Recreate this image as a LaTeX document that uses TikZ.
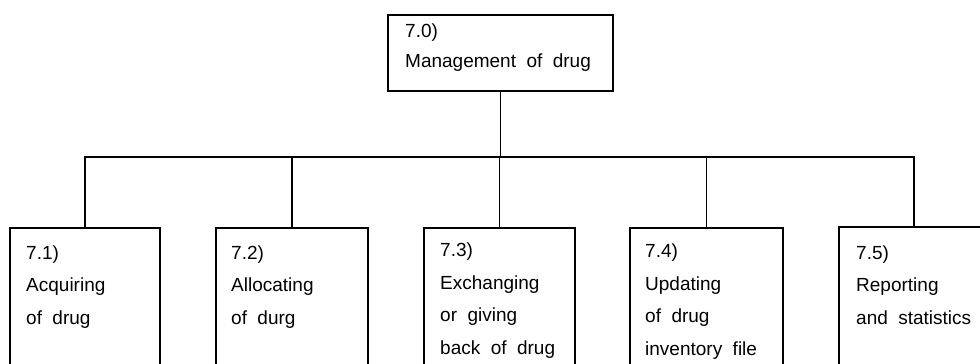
\documentclass[tikz,border=0pt]{standalone}
\usepackage{fontspec}
\setmainfont{Liberation Sans}
\begin{document}
\begin{tikzpicture}[x=1pt,y=-1pt,
  boxnode/.style={draw,line width=1.7pt,rectangle,inner sep=0pt,anchor=north west},
  label/.style={anchor=base west,inner sep=0pt,align=left,
    font={\fontsize{19}{32.5}\selectfont\spaceskip=0.55em plus 0.1em}},
  toplabel/.style={label,font={\fontsize{19}{30}\selectfont\spaceskip=0.55em plus 0.1em}},
  link/.style={line width=1.7pt}]
\useasboundingbox (0,0) rectangle (980,364);
\clip (0,0) rectangle (980,364);
% top box
\node[boxnode,minimum width=225pt,minimum height=76pt] (top) at (387,14) {};
\node[toplabel] (ttop) at (405,67) {7.0)\\Management of drug};
% bottom boxes
\node[boxnode,minimum width=150pt,minimum height=160pt] (b1) at (9,227) {};
\node[boxnode,minimum width=152pt,minimum height=160pt] (b2) at (215,227) {};
\node[boxnode,minimum width=151pt,minimum height=160pt] (b3) at (423,227) {};
\node[boxnode,minimum width=153pt,minimum height=160pt] (b4) at (629,227) {};
\node[boxnode,minimum width=150pt,minimum height=160pt] (b5) at (838,226) {};
\node[label] (t1) at (26,324) {7.1)\\Acquiring\\of drug};
\node[label] (t2) at (231,324) {7.2)\\Allocating\\of durg};
\node[label] (t3) at (440,354) {7.3)\\Exchanging\\or giving\\back of drug};
\node[label] (t4) at (645,355) {7.4)\\Updating\\of drug\\inventory file};
\node[label] (t5) at (856,324) {7.5)\\Reporting\\and statistics};
% connectors
\coordinate (bus) at (499,157);
\draw[link] (top.south) -- (top.south |- bus);
\draw[link] (b1.north) |- (b5.north |- bus) -- (b5.north);
\draw[link] (b2.north) -- (b2.north |- bus);
\draw[link] (b3.north) -- (b3.north |- bus);
\draw[link] (b4.north) -- (b4.north |- bus);
\end{tikzpicture}
\end{document}
